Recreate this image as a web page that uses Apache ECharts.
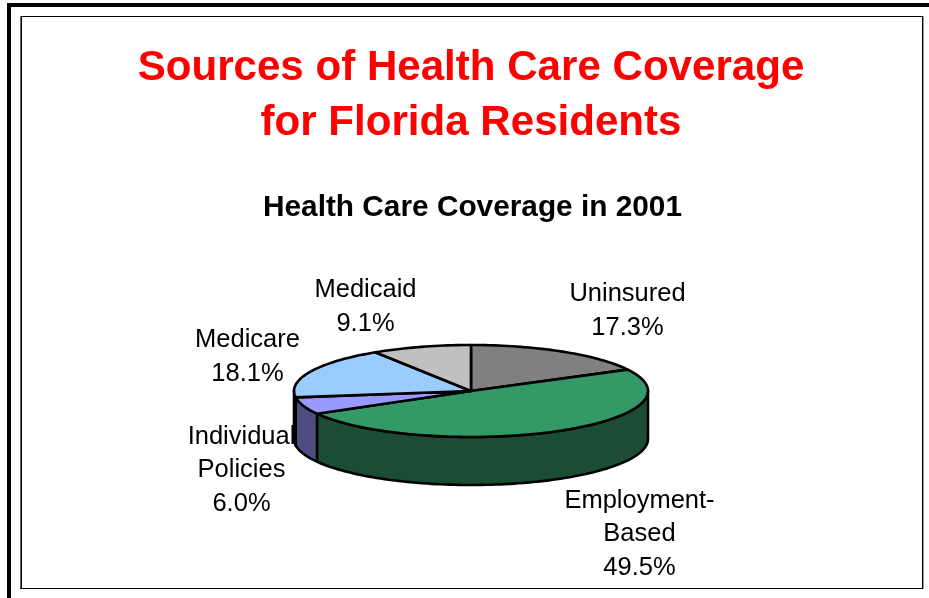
<!DOCTYPE html>
<html>
<head>
<meta charset="utf-8">
<style>html,body{margin:0;padding:0;background:#fff}#chart{width:929px;height:598px}</style>
<script src="https://cdn.jsdelivr.net/npm/echarts@6/dist/echarts.min.js"></script>
</head>
<body>
<div id="chart"></div>
<script>
// Coverage shares for 2001, clockwise from twelve o'clock
const categories = ['Uninsured', 'Employment-\nBased', 'Individual\nPolicies', 'Medicare', 'Medicaid'];
const shares = [17.3, 49.5, 6.0, 18.1, 9.1];
const topColors = ['#808080', '#339966', '#9999ff', '#99ccff', '#c0c0c0'];
const sideColors = ['#404040', '#1a4d33', '#4d4d80', '#4d6680', '#606060'];
const labelCenters = [[627.5, 311], [639.5, 534], [241.5, 470], [247.5, 357], [365.5, 307]];

// Tilted pie geometry
const cx = 471, cy = 391, rx = 177, ry = 46, depth = 48;
const FONT = '"Liberation Sans", Arial, sans-serif';

const total = shares.reduce((a, b) => a + b, 0);
const rim = (deg, drop) => {
  const t = deg * Math.PI / 180;
  return [cx + rx * Math.sin(t), cy - ry * Math.cos(t) + drop];
};
const arc = (from, to, drop) => {
  const pts = [];
  const n = Math.max(2, Math.ceil(Math.abs(to - from) / 1.5));
  for (let i = 0; i <= n; i++) pts.push(rim(from + (to - from) * i / n, drop));
  return pts;
};
const startAngle = i => shares.slice(0, i).reduce((a, b) => a + b, 0) / total * 360;
const outline = { stroke: '#000', lineWidth: 2.6, lineJoin: 'round' };

// Side walls are only visible on the near half of the rim
function renderWall(params, api) {
  const i = params.dataIndex;
  const from = Math.max(startAngle(i), 90);
  const to = Math.min(startAngle(i) + api.value(0) / total * 360, 270);
  if (to <= from) return { type: 'group', children: [] };
  const points = arc(from, to, 0).concat(arc(to, from, depth));
  return { type: 'polygon', shape: { points }, style: { fill: sideColors[i], ...outline } };
}

function renderFace(params, api) {
  const i = params.dataIndex;
  const from = startAngle(i);
  const to = from + api.value(0) / total * 360;
  const points = [[cx, cy]].concat(arc(from, to, 0));
  return { type: 'polygon', shape: { points }, style: { fill: topColors[i], ...outline } };
}

function renderLabel(params, api) {
  const i = params.dataIndex;
  return {
    type: 'text',
    style: {
      text: categories[i] + '\n' + api.value(0).toFixed(1) + '%',
      x: labelCenters[i][0], y: labelCenters[i][1],
      align: 'center', verticalAlign: 'middle',
      font: '25.5px ' + FONT, lineHeight: 33.5, fill: '#000'
    }
  };
}

const seriesData = shares.map(v => [v]);
const chart = echarts.init(document.getElementById('chart'), null, { renderer: 'canvas' });
chart.setOption({
  animation: false,
  backgroundColor: '#fff',
  title: [
    {
      text: 'Sources of Health Care Coverage\nfor Florida Residents',
      left: 466, top: 36, textAlign: 'center',
      textStyle: { fontFamily: FONT, fontWeight: 'bold', fontSize: 42.1, lineHeight: 55, color: '#ff0000' }
    },
    {
      text: 'Health Care Coverage in 2001',
      left: 467.5, top: 186, textAlign: 'center',
      textStyle: { fontFamily: FONT, fontWeight: 'bold', fontSize: 29.8, lineHeight: 34, color: '#000' }
    }
  ],
  graphic: [
    // Outer slide frame
    { type: 'rect', shape: { x: 7, y: 3, width: 922, height: 4 }, style: { fill: '#000' } },
    { type: 'rect', shape: { x: 7, y: 3, width: 4, height: 595 }, style: { fill: '#000' } },
    // Inner panel
    { type: 'rect', shape: { x: 20, y: 16, width: 1, height: 573 }, style: { fill: '#666' } },
    { type: 'rect', shape: { x: 21, y: 16, width: 1, height: 573 }, style: { fill: '#000' } },
    { type: 'rect', shape: { x: 21, y: 16, width: 902, height: 1 }, style: { fill: '#000' } },
    { type: 'rect', shape: { x: 20, y: 588, width: 903, height: 1 }, style: { fill: '#000' } },
    { type: 'rect', shape: { x: 922, y: 16, width: 1, height: 573 }, style: { fill: '#000' } },
    { type: 'rect', shape: { x: 923, y: 16, width: 1, height: 573 }, style: { fill: '#999' } }
  ],
  series: [
    { type: 'custom', coordinateSystem: 'none', renderItem: renderWall, data: seriesData, z: 2, silent: true },
    { type: 'custom', coordinateSystem: 'none', renderItem: renderFace, data: seriesData, z: 3, silent: true },
    { type: 'custom', coordinateSystem: 'none', renderItem: renderLabel, data: seriesData, z: 4, silent: true }
  ]
});
</script>
</body>
</html>
